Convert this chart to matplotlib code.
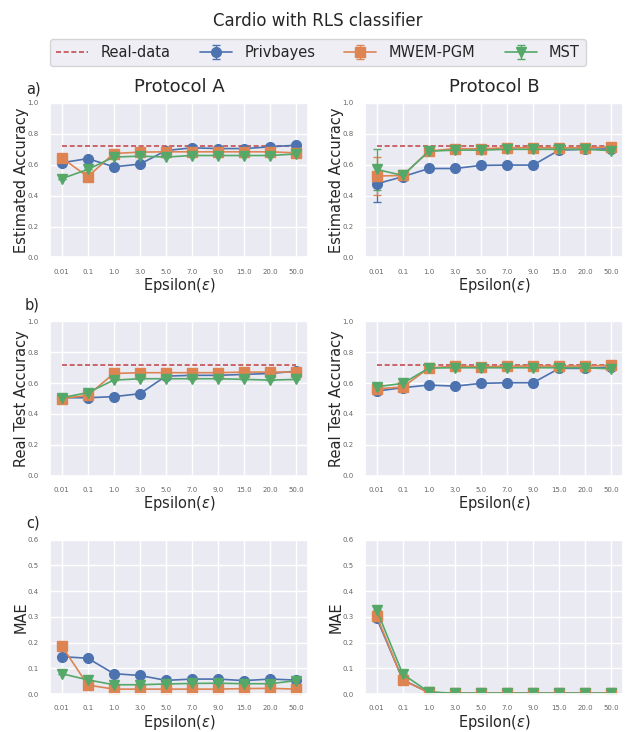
import numpy as np
import matplotlib
matplotlib.use("Agg")
import matplotlib.pyplot as plt
import seaborn as sns

# ----------------------------
# Data
# ----------------------------

epsilons = ["0.01", "0.1", "1.0", "3.0", "5.0", "7.0", "9.0", "15.0", "20.0", "50.0"]
methods = ["Privbayes", "MWEM-PGM", "MST"]
real_acc = 0.72

# a) estimated accuracy
est_A_privbayes = [0.613, 0.640, 0.587, 0.604, 0.692, 0.710, 0.705, 0.705, 0.716, 0.727]
est_A_mwem = [0.645, 0.523, 0.673, 0.682, 0.684, 0.684, 0.684, 0.684, 0.684, 0.677]
est_A_mst = [0.510, 0.570, 0.650, 0.656, 0.650, 0.660, 0.660, 0.660, 0.660, 0.670]

est_B_privbayes = [0.477, 0.523, 0.576, 0.576, 0.596, 0.598, 0.598, 0.695, 0.700, 0.703]
est_B_mwem = [0.527, 0.531, 0.688, 0.705, 0.703, 0.710, 0.710, 0.710, 0.710, 0.716]
est_B_mst = [0.570, 0.531, 0.688, 0.695, 0.695, 0.700, 0.700, 0.700, 0.700, 0.692]
est_B_privbayes_err = [0.12, 0, 0, 0, 0, 0, 0, 0, 0, 0]
est_B_mwem_err = [0.125, 0, 0, 0, 0, 0, 0, 0, 0, 0]
est_B_mst_err = [0.135, 0, 0, 0, 0, 0, 0, 0, 0, 0]

# b) real test accuracy
real_A_privbayes = [0.505, 0.505, 0.512, 0.531, 0.645, 0.650, 0.650, 0.656, 0.662, 0.677]
real_A_mwem = [0.500, 0.520, 0.662, 0.667, 0.667, 0.667, 0.667, 0.671, 0.671, 0.671]
real_A_mst = [0.505, 0.538, 0.619, 0.628, 0.628, 0.628, 0.628, 0.624, 0.619, 0.624]

real_B_privbayes = [0.548, 0.570, 0.587, 0.580, 0.598, 0.602, 0.602, 0.695, 0.695, 0.703]
real_B_mwem = [0.563, 0.574, 0.697, 0.710, 0.705, 0.710, 0.710, 0.710, 0.710, 0.714]
real_B_mst = [0.576, 0.598, 0.697, 0.699, 0.699, 0.699, 0.699, 0.699, 0.699, 0.692]

# c) MAE
mae_A_privbayes = [0.145, 0.139, 0.079, 0.072, 0.053, 0.058, 0.058, 0.052, 0.058, 0.054]
mae_A_mwem = [0.187, 0.035, 0.019, 0.019, 0.019, 0.019, 0.019, 0.021, 0.022, 0.019]
mae_A_mst = [0.079, 0.055, 0.036, 0.036, 0.039, 0.041, 0.042, 0.040, 0.040, 0.052]

mae_B_privbayes = [0.294, 0.055, 0.006, 0.003, 0.003, 0.003, 0.003, 0.003, 0.003, 0.003]
mae_B_mwem = [0.303, 0.053, 0.006, 0.003, 0.003, 0.003, 0.003, 0.003, 0.003, 0.003]
mae_B_mst = [0.326, 0.077, 0.008, 0.003, 0.003, 0.003, 0.003, 0.003, 0.003, 0.003]

zeros = [0] * len(epsilons)

panels = [
    # (row, col, series, errors, show real line)
    (0, 0, [est_A_privbayes, est_A_mwem, est_A_mst], [zeros, zeros, zeros], True),
    (0, 1, [est_B_privbayes, est_B_mwem, est_B_mst],
     [est_B_privbayes_err, est_B_mwem_err, est_B_mst_err], True),
    (1, 0, [real_A_privbayes, real_A_mwem, real_A_mst], [zeros, zeros, zeros], True),
    (1, 1, [real_B_privbayes, real_B_mwem, real_B_mst], [zeros, zeros, zeros], True),
    (2, 0, [mae_A_privbayes, mae_A_mwem, mae_A_mst], [zeros, zeros, zeros], False),
    (2, 1, [mae_B_privbayes, mae_B_mwem, mae_B_mst], [zeros, zeros, zeros], False),
]
ylabels = ["Estimated Accuracy", "Real Test Accuracy", "MAE"]

# ----------------------------
# Plot
# ----------------------------

sns.set_theme(style="darkgrid")
colors = sns.color_palette("deep")
styles = [("o", colors[0]), ("s", colors[1]), ("v", colors[2])]

fig, axes = plt.subplots(3, 2, figsize=(6.36, 7.32), dpi=100)
fig.subplots_adjust(left=0.0786, right=0.9796, top=0.8593, bottom=0.0519,
                    wspace=0.221, hspace=0.413)

x = np.arange(len(epsilons))
handles = None
for row, col, series, errs, show_real in panels:
    ax = axes[row, col]
    hs = []
    if show_real:
        h, = ax.plot(x, [real_acc] * len(x), ls=(0, (3, 1.6)), color=colors[3],
                     lw=1.2, label="Real-data")
        hs.append(h)
    for name, ys, err, (mk, c) in zip(methods, series, errs, styles):
        h = ax.errorbar(x, ys, yerr=err, marker=mk, color=c, ms=7, lw=1.2,
                        capsize=3, elinewidth=1, label=name)
        hs.append(h)
    if handles is None:
        handles = hs
    ax.set_xticks(x)
    ax.set_xticklabels(epsilons)
    if row < 2:
        ax.set_ylim(0, 1.0)
        ax.set_yticks(np.arange(0, 1.01, 0.2))
    else:
        ax.set_ylim(0, 0.6)
        ax.set_yticks(np.arange(0, 0.61, 0.1))
    ax.tick_params(labelsize=5, colors="0.4", pad=2)
    ax.set_ylabel(ylabels[row], fontsize=10.5, labelpad=-1)
    ax.set_xlabel(r"Epsilon($\varepsilon$)", fontsize=10.5, labelpad=1)

axes[0, 0].set_title("Protocol A", fontsize=13, pad=8)
axes[0, 1].set_title("Protocol B", fontsize=13, pad=8)

fig.text(33 / 636, 1 - 89 / 732, "a)", fontsize=10.5, ha="center", va="center")
fig.text(32 / 636, 1 - 305 / 732, "b)", fontsize=10.5, ha="center", va="center")
fig.text(33 / 636, 1 - 523 / 732, "c)", fontsize=10.5, ha="center", va="center")

fig.suptitle("Cardio with RLS classifier", fontsize=12, y=0.983)
fig.legend(handles=handles, loc="center", bbox_to_anchor=(0.5, 1 - 52.5 / 732),
           ncol=4, fontsize=10.5, columnspacing=2.0, handlelength=2.2,
           handletextpad=0.85)

fig.savefig("out.png", dpi=100)
